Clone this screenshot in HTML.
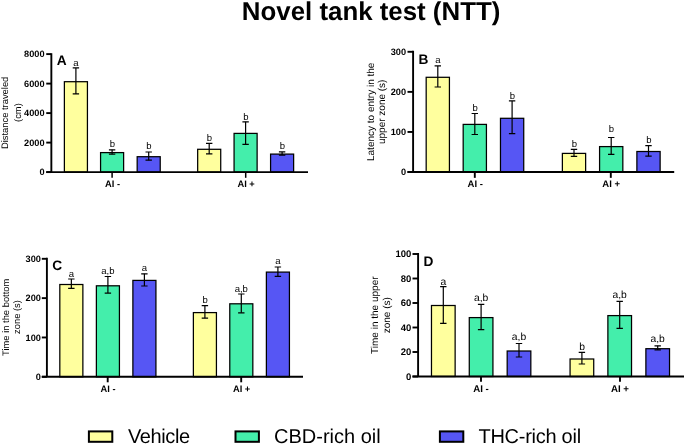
<!DOCTYPE html>
<html><head><meta charset="utf-8"><title>Novel tank test (NTT)</title>
<style>
html,body{margin:0;padding:0;background:#fff;}
body{width:685px;height:445px;overflow:hidden;}
svg{display:block;will-change:transform;text-rendering:geometricPrecision;font-family:"Liberation Sans",sans-serif;fill:#000;}
</style></head><body>
<svg width="685" height="445" viewBox="0 0 685 445">
<rect width="685" height="445" fill="#fff" stroke="none"/>
<rect x="64.38" y="81.70" width="23.05" height="90.40" fill="#ffff9e" stroke="#000" stroke-width="1.25"/>
<rect x="100.57" y="152.60" width="23.05" height="19.50" fill="#44eeab" stroke="#000" stroke-width="1.25"/>
<rect x="137.17" y="156.70" width="23.05" height="15.40" fill="#5656f4" stroke="#000" stroke-width="1.25"/>
<rect x="197.67" y="149.30" width="23.05" height="22.80" fill="#ffff9e" stroke="#000" stroke-width="1.25"/>
<rect x="234.07" y="133.40" width="23.05" height="38.70" fill="#44eeab" stroke="#000" stroke-width="1.25"/>
<rect x="270.58" y="154.10" width="23.05" height="18.00" fill="#5656f4" stroke="#000" stroke-width="1.25"/>
<path d="M75.90 67.90V93.90" stroke="#000" stroke-width="1.2" fill="none"/>
<path d="M72.70 67.90H79.10M72.70 93.90H79.10" stroke="#000" stroke-width="1.2" fill="none"/>
<text x="75.90" y="65.50" font-size="9.5" text-anchor="middle">a</text>
<path d="M112.10 149.80V154.20" stroke="#000" stroke-width="1.2" fill="none"/>
<path d="M108.90 149.80H115.30M108.90 154.20H115.30" stroke="#000" stroke-width="1.2" fill="none"/>
<text x="112.40" y="147.20" font-size="9.5" text-anchor="middle">b</text>
<path d="M148.70 152.00V160.20" stroke="#000" stroke-width="1.2" fill="none"/>
<path d="M145.50 152.00H151.90M145.50 160.20H151.90" stroke="#000" stroke-width="1.2" fill="none"/>
<text x="149.00" y="149.10" font-size="9.5" text-anchor="middle">b</text>
<path d="M209.20 143.40V153.90" stroke="#000" stroke-width="1.2" fill="none"/>
<path d="M206.00 143.40H212.40M206.00 153.90H212.40" stroke="#000" stroke-width="1.2" fill="none"/>
<text x="209.50" y="140.80" font-size="9.5" text-anchor="middle">b</text>
<path d="M245.60 121.80V144.30" stroke="#000" stroke-width="1.2" fill="none"/>
<path d="M242.40 121.80H248.80M242.40 144.30H248.80" stroke="#000" stroke-width="1.2" fill="none"/>
<text x="245.90" y="119.90" font-size="9.5" text-anchor="middle">b</text>
<path d="M282.10 151.90V155.10" stroke="#000" stroke-width="1.2" fill="none"/>
<path d="M278.90 151.90H285.30M278.90 155.10H285.30" stroke="#000" stroke-width="1.2" fill="none"/>
<text x="282.40" y="148.90" font-size="9.5" text-anchor="middle">b</text>
<path d="M51.35 53.15V172.10M46.25 172.10H308.00" stroke="#000" stroke-width="1.9" fill="none"/>
<path d="M46.25 172.10H51.35" stroke="#000" stroke-width="1.9"/>
<text x="44.55" y="175.40" font-size="9.2" font-weight="bold" text-anchor="end">0</text>
<path d="M46.25 142.60H51.35" stroke="#000" stroke-width="1.9"/>
<text x="44.55" y="145.90" font-size="9.2" font-weight="bold" text-anchor="end">2000</text>
<path d="M46.25 113.10H51.35" stroke="#000" stroke-width="1.9"/>
<text x="44.55" y="116.40" font-size="9.2" font-weight="bold" text-anchor="end">4000</text>
<path d="M46.25 83.60H51.35" stroke="#000" stroke-width="1.9"/>
<text x="44.55" y="86.90" font-size="9.2" font-weight="bold" text-anchor="end">6000</text>
<path d="M46.25 54.10H51.35" stroke="#000" stroke-width="1.9"/>
<text x="44.55" y="57.40" font-size="9.2" font-weight="bold" text-anchor="end">8000</text>
<path d="M112.10 172.10V177.80" stroke="#000" stroke-width="1.5"/>
<text x="112.50" y="187.00" font-size="9.3" font-weight="bold" text-anchor="middle">AI -</text>
<path d="M245.70 172.10V177.80" stroke="#000" stroke-width="1.5"/>
<text x="246.10" y="187.00" font-size="9.3" font-weight="bold" text-anchor="middle">AI +</text>
<text x="56.70" y="65.40" font-size="13.7" font-weight="bold">A</text>
<text transform="translate(8.40 112.90) rotate(-90)" font-size="9.4" text-anchor="middle">Distance traveled</text>
<text transform="translate(20.60 112.60) rotate(-90)" font-size="9.4" text-anchor="middle">(cm)</text>
<rect x="426.18" y="77.30" width="23.25" height="94.75" fill="#ffff9e" stroke="#000" stroke-width="1.25"/>
<rect x="463.18" y="124.40" width="23.25" height="47.65" fill="#44eeab" stroke="#000" stroke-width="1.25"/>
<rect x="500.48" y="118.30" width="23.25" height="53.75" fill="#5656f4" stroke="#000" stroke-width="1.25"/>
<rect x="562.38" y="153.40" width="23.25" height="18.65" fill="#ffff9e" stroke="#000" stroke-width="1.25"/>
<rect x="599.58" y="146.60" width="23.25" height="25.45" fill="#44eeab" stroke="#000" stroke-width="1.25"/>
<rect x="636.88" y="151.50" width="23.25" height="20.55" fill="#5656f4" stroke="#000" stroke-width="1.25"/>
<path d="M437.80 65.90V87.00" stroke="#000" stroke-width="1.2" fill="none"/>
<path d="M434.60 65.90H441.00M434.60 87.00H441.00" stroke="#000" stroke-width="1.2" fill="none"/>
<text x="437.80" y="62.80" font-size="9.5" text-anchor="middle">a</text>
<path d="M474.80 113.50V134.50" stroke="#000" stroke-width="1.2" fill="none"/>
<path d="M471.60 113.50H478.00M471.60 134.50H478.00" stroke="#000" stroke-width="1.2" fill="none"/>
<text x="475.10" y="111.40" font-size="9.5" text-anchor="middle">b</text>
<path d="M512.10 100.90V133.60" stroke="#000" stroke-width="1.2" fill="none"/>
<path d="M508.90 100.90H515.30M508.90 133.60H515.30" stroke="#000" stroke-width="1.2" fill="none"/>
<text x="512.40" y="98.60" font-size="9.5" text-anchor="middle">b</text>
<path d="M574.00 149.40V156.40" stroke="#000" stroke-width="1.2" fill="none"/>
<path d="M570.80 149.40H577.20M570.80 156.40H577.20" stroke="#000" stroke-width="1.2" fill="none"/>
<text x="574.30" y="147.40" font-size="9.5" text-anchor="middle">b</text>
<path d="M611.20 137.50V154.40" stroke="#000" stroke-width="1.2" fill="none"/>
<path d="M608.00 137.50H614.40M608.00 154.40H614.40" stroke="#000" stroke-width="1.2" fill="none"/>
<text x="611.50" y="132.20" font-size="9.5" text-anchor="middle">b</text>
<path d="M648.50 145.60V156.20" stroke="#000" stroke-width="1.2" fill="none"/>
<path d="M645.30 145.60H651.70M645.30 156.20H651.70" stroke="#000" stroke-width="1.2" fill="none"/>
<text x="648.80" y="143.00" font-size="9.5" text-anchor="middle">b</text>
<path d="M413.10 50.85V172.05M407.50 172.05H674.20" stroke="#000" stroke-width="1.9" fill="none"/>
<path d="M407.50 172.05H413.10" stroke="#000" stroke-width="1.9"/>
<text x="406.10" y="175.35" font-size="9.2" font-weight="bold" text-anchor="end">0</text>
<path d="M407.50 131.97H413.10" stroke="#000" stroke-width="1.9"/>
<text x="406.10" y="135.27" font-size="9.2" font-weight="bold" text-anchor="end">100</text>
<path d="M407.50 91.88H413.10" stroke="#000" stroke-width="1.9"/>
<text x="406.10" y="95.18" font-size="9.2" font-weight="bold" text-anchor="end">200</text>
<path d="M407.50 51.80H413.10" stroke="#000" stroke-width="1.9"/>
<text x="406.10" y="55.10" font-size="9.2" font-weight="bold" text-anchor="end">300</text>
<path d="M474.80 172.05V177.85" stroke="#000" stroke-width="1.9"/>
<text x="475.20" y="187.00" font-size="9.5" font-weight="bold" text-anchor="middle">AI -</text>
<path d="M610.80 172.05V177.85" stroke="#000" stroke-width="1.9"/>
<text x="611.20" y="187.00" font-size="9.5" font-weight="bold" text-anchor="middle">AI +</text>
<text x="418.50" y="63.50" font-size="13.7" font-weight="bold">B</text>
<text transform="translate(373.90 111.80) rotate(-90)" font-size="10.0" text-anchor="middle">Latency to entry in the</text>
<text transform="translate(385.00 111.80) rotate(-90)" font-size="10.0" text-anchor="middle">upper zone (s)</text>
<rect x="59.82" y="284.50" width="23.05" height="92.30" fill="#ffff9e" stroke="#000" stroke-width="1.25"/>
<rect x="96.38" y="285.80" width="23.05" height="91.00" fill="#44eeab" stroke="#000" stroke-width="1.25"/>
<rect x="132.88" y="280.40" width="23.05" height="96.40" fill="#5656f4" stroke="#000" stroke-width="1.25"/>
<rect x="193.38" y="312.60" width="23.05" height="64.20" fill="#ffff9e" stroke="#000" stroke-width="1.25"/>
<rect x="229.78" y="303.80" width="23.05" height="73.00" fill="#44eeab" stroke="#000" stroke-width="1.25"/>
<rect x="266.38" y="272.10" width="23.05" height="104.70" fill="#5656f4" stroke="#000" stroke-width="1.25"/>
<path d="M71.35 279.00V288.30" stroke="#000" stroke-width="1.2" fill="none"/>
<path d="M68.15 279.00H74.55M68.15 288.30H74.55" stroke="#000" stroke-width="1.2" fill="none"/>
<text x="71.35" y="277.00" font-size="9.5" text-anchor="middle">a</text>
<path d="M107.90 276.50V293.10" stroke="#000" stroke-width="1.2" fill="none"/>
<path d="M104.70 276.50H111.10M104.70 293.10H111.10" stroke="#000" stroke-width="1.2" fill="none"/>
<text x="107.90" y="274.00" font-size="9.5" text-anchor="middle">a,b</text>
<path d="M144.40 273.80V286.00" stroke="#000" stroke-width="1.2" fill="none"/>
<path d="M141.20 273.80H147.60M141.20 286.00H147.60" stroke="#000" stroke-width="1.2" fill="none"/>
<text x="144.40" y="271.00" font-size="9.5" text-anchor="middle">a</text>
<path d="M204.90 305.60V318.20" stroke="#000" stroke-width="1.2" fill="none"/>
<path d="M201.70 305.60H208.10M201.70 318.20H208.10" stroke="#000" stroke-width="1.2" fill="none"/>
<text x="205.20" y="303.00" font-size="9.5" text-anchor="middle">b</text>
<path d="M241.30 294.00V312.80" stroke="#000" stroke-width="1.2" fill="none"/>
<path d="M238.10 294.00H244.50M238.10 312.80H244.50" stroke="#000" stroke-width="1.2" fill="none"/>
<text x="241.30" y="292.00" font-size="9.5" text-anchor="middle">a,b</text>
<path d="M277.90 267.00V276.40" stroke="#000" stroke-width="1.2" fill="none"/>
<path d="M274.70 267.00H281.10M274.70 276.40H281.10" stroke="#000" stroke-width="1.2" fill="none"/>
<text x="277.90" y="264.00" font-size="9.5" text-anchor="middle">a</text>
<path d="M46.90 257.85V376.80M41.80 376.80H303.00" stroke="#000" stroke-width="1.9" fill="none"/>
<path d="M41.80 376.80H46.90" stroke="#000" stroke-width="1.9"/>
<text x="40.90" y="380.10" font-size="9.2" font-weight="bold" text-anchor="end">0</text>
<path d="M41.80 337.47H46.90" stroke="#000" stroke-width="1.9"/>
<text x="40.90" y="340.77" font-size="9.2" font-weight="bold" text-anchor="end">100</text>
<path d="M41.80 298.13H46.90" stroke="#000" stroke-width="1.9"/>
<text x="40.90" y="301.43" font-size="9.2" font-weight="bold" text-anchor="end">200</text>
<path d="M41.80 258.80H46.90" stroke="#000" stroke-width="1.9"/>
<text x="40.90" y="262.10" font-size="9.2" font-weight="bold" text-anchor="end">300</text>
<path d="M107.70 376.80V382.30" stroke="#000" stroke-width="1.9"/>
<text x="108.10" y="391.80" font-size="9.3" font-weight="bold" text-anchor="middle">AI -</text>
<path d="M241.20 376.80V382.30" stroke="#000" stroke-width="1.9"/>
<text x="241.60" y="391.80" font-size="9.3" font-weight="bold" text-anchor="middle">AI +</text>
<text x="52.20" y="270.30" font-size="13.7" font-weight="bold">C</text>
<text transform="translate(8.50 317.30) rotate(-90)" font-size="9.4" text-anchor="middle">Time in the bottom</text>
<text transform="translate(20.30 317.00) rotate(-90)" font-size="9.4" text-anchor="middle">zone (s)</text>
<rect x="431.48" y="305.50" width="23.65" height="71.00" fill="#ffff9e" stroke="#000" stroke-width="1.25"/>
<rect x="469.28" y="317.60" width="23.65" height="58.90" fill="#44eeab" stroke="#000" stroke-width="1.25"/>
<rect x="507.18" y="351.00" width="23.65" height="25.50" fill="#5656f4" stroke="#000" stroke-width="1.25"/>
<rect x="570.07" y="359.00" width="23.65" height="17.50" fill="#ffff9e" stroke="#000" stroke-width="1.25"/>
<rect x="607.88" y="315.60" width="23.65" height="60.90" fill="#44eeab" stroke="#000" stroke-width="1.25"/>
<rect x="645.88" y="348.70" width="23.65" height="27.80" fill="#5656f4" stroke="#000" stroke-width="1.25"/>
<path d="M443.30 286.60V323.40" stroke="#000" stroke-width="1.2" fill="none"/>
<path d="M440.10 286.60H446.50M440.10 323.40H446.50" stroke="#000" stroke-width="1.2" fill="none"/>
<text x="443.30" y="284.50" font-size="10.3" text-anchor="middle">a</text>
<path d="M481.10 304.30V329.60" stroke="#000" stroke-width="1.2" fill="none"/>
<path d="M477.90 304.30H484.30M477.90 329.60H484.30" stroke="#000" stroke-width="1.2" fill="none"/>
<text x="481.10" y="300.60" font-size="10.3" text-anchor="middle">a,b</text>
<path d="M519.00 343.50V357.00" stroke="#000" stroke-width="1.2" fill="none"/>
<path d="M515.80 343.50H522.20M515.80 357.00H522.20" stroke="#000" stroke-width="1.2" fill="none"/>
<text x="519.00" y="339.70" font-size="10.3" text-anchor="middle">a,b</text>
<path d="M581.90 352.40V364.00" stroke="#000" stroke-width="1.2" fill="none"/>
<path d="M578.70 352.40H585.10M578.70 364.00H585.10" stroke="#000" stroke-width="1.2" fill="none"/>
<text x="582.20" y="350.10" font-size="10.3" text-anchor="middle">b</text>
<path d="M619.70 301.30V328.40" stroke="#000" stroke-width="1.2" fill="none"/>
<path d="M616.50 301.30H622.90M616.50 328.40H622.90" stroke="#000" stroke-width="1.2" fill="none"/>
<text x="619.70" y="298.00" font-size="10.3" text-anchor="middle">a,b</text>
<path d="M657.70 345.80V349.90" stroke="#000" stroke-width="1.2" fill="none"/>
<path d="M654.50 345.80H660.90M654.50 349.90H660.90" stroke="#000" stroke-width="1.2" fill="none"/>
<text x="657.70" y="341.60" font-size="10.3" text-anchor="middle">a,b</text>
<path d="M418.10 253.05V376.50M412.50 376.50H684.00" stroke="#000" stroke-width="1.9" fill="none"/>
<path d="M412.50 376.50H418.10" stroke="#000" stroke-width="1.9"/>
<text x="411.30" y="379.80" font-size="9.5" font-weight="bold" text-anchor="end">0</text>
<path d="M412.50 352.00H418.10" stroke="#000" stroke-width="1.9"/>
<text x="411.30" y="355.30" font-size="9.5" font-weight="bold" text-anchor="end">20</text>
<path d="M412.50 327.50H418.10" stroke="#000" stroke-width="1.9"/>
<text x="411.30" y="330.80" font-size="9.5" font-weight="bold" text-anchor="end">40</text>
<path d="M412.50 303.00H418.10" stroke="#000" stroke-width="1.9"/>
<text x="411.30" y="306.30" font-size="9.5" font-weight="bold" text-anchor="end">60</text>
<path d="M412.50 278.50H418.10" stroke="#000" stroke-width="1.9"/>
<text x="411.30" y="281.80" font-size="9.5" font-weight="bold" text-anchor="end">80</text>
<path d="M412.50 254.00H418.10" stroke="#000" stroke-width="1.9"/>
<text x="411.30" y="257.30" font-size="9.5" font-weight="bold" text-anchor="end">100</text>
<path d="M481.00 376.50V381.80" stroke="#000" stroke-width="1.9"/>
<text x="481.00" y="392.00" font-size="9.7" font-weight="bold" text-anchor="middle">AI -</text>
<path d="M620.00 376.50V381.80" stroke="#000" stroke-width="1.9"/>
<text x="620.00" y="392.00" font-size="9.7" font-weight="bold" text-anchor="middle">AI +</text>
<text x="423.60" y="265.90" font-size="13.7" font-weight="bold">D</text>
<text transform="translate(378.10 315.20) rotate(-90)" font-size="10.0" text-anchor="middle">Time in the upper</text>
<text transform="translate(390.20 315.20) rotate(-90)" font-size="10.0" text-anchor="middle">zone (s)</text>
<text x="371.1" y="20.0" font-size="25.85" font-weight="bold" text-anchor="middle">Novel tank test (NTT)</text>
<rect x="88.90" y="431.4" width="23.4" height="10.4" fill="#ffff9e" stroke="#000" stroke-width="2"/>
<text x="127.90" y="443.4" font-size="20" letter-spacing="-0.38">Vehicle</text>
<rect x="235.50" y="431.4" width="23.4" height="10.4" fill="#44eeab" stroke="#000" stroke-width="2"/>
<text x="274.00" y="443.4" font-size="20" letter-spacing="0">CBD-rich oil</text>
<rect x="439.90" y="431.4" width="23.4" height="10.4" fill="#5656f4" stroke="#000" stroke-width="2"/>
<text x="478.50" y="443.4" font-size="20" letter-spacing="-0.27">THC-rich oil</text>
</svg>
</body></html>
